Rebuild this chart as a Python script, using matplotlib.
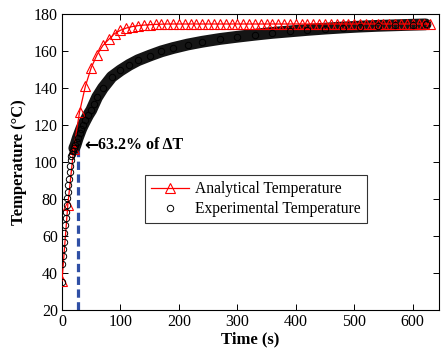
import matplotlib
matplotlib.use("Agg")
import matplotlib.pyplot as plt
import numpy as np

# analytical model, sampled every 10 s
ana_time = np.arange(0, 640, 10)
ana_temp = [35.8, 77.0, 107.0, 127.0, 141.0, 151.0, 158.0, 163.0, 166.3, 169.4,
            171.2, 172.4, 173.2, 173.7, 174.0, 174.2, 174.4, 174.5, 174.6, 174.6,
            174.6, 174.6, 174.6, 174.6, 174.6, 174.6, 174.6, 174.6, 174.6, 174.6,
            174.6, 174.6, 174.6, 174.6, 174.6, 174.6, 174.6, 174.6, 174.6, 174.6,
            174.6, 174.6, 174.6, 174.6, 174.6, 174.6, 174.6, 174.6, 174.6, 174.6,
            174.6, 174.6, 174.6, 174.6, 174.6, 174.6, 174.6, 174.6, 174.6, 174.6,
            174.6, 174.6, 174.6, 174.6]

# experimental readings
exp_time = [0, 0.5, 1, 2, 3, 4, 5, 6, 7, 8, 9, 10, 11, 12, 13, 14, 15, 16, 17,
            19, 21, 23, 25, 27, 30, 33, 36, 40, 45, 50, 55, 60, 70, 85, 100,
            115, 130, 150, 170, 190, 215, 240, 270, 300, 330, 360, 390, 420,
            450, 480, 510, 540, 570, 600, 622]
exp_temp = [35.0, 45.0, 49.0, 53.0, 57.0, 61.5, 66.0, 70.0, 73.0, 77.0, 80.5,
            84.0, 87.5, 91.0, 94.5, 98.0, 101.0, 103.0, 104.5, 106.0, 107.5,
            109.0, 111.0, 113.0, 115.5, 118.0, 120.0, 122.5, 125.5, 128.0,
            131.5, 135.0, 140.0, 146.0, 149.5, 152.5, 155.0, 157.5, 159.8,
            161.6, 163.5, 165.0, 166.5, 167.7, 168.8, 169.8, 170.6, 171.4,
            172.1, 172.7, 173.2, 173.6, 173.9, 174.2, 174.4]

tau_time = 26.8
tau_temp = 111.0

plt.rcParams["font.family"] = ["Liberation Serif", "DejaVu Serif"]

fig = plt.figure(figsize=(4.41, 3.48), dpi=100)
ax = fig.add_axes([62 / 441, 38 / 348, 377 / 441, 296 / 348])

ax.plot([tau_time, tau_time], [20, tau_temp], color="#2f4fa5", lw=2.3,
        linestyle=(0, (2.6, 1.4)), zorder=2)

# dense experimental band
band = [i for i, t in enumerate(exp_time) if t >= 21]
ax.plot([exp_time[i] for i in band], [exp_temp[i] for i in band],
        color="#151515", lw=8.5, solid_capstyle="round", zorder=3)
ax.plot(ana_time, ana_temp, color="red", lw=0.9, marker="^", markersize=6.5,
        markerfacecolor="none", markeredgewidth=0.8, zorder=4,
        label="Analytical Temperature")
ax.plot(exp_time, exp_temp, linestyle="none", marker="o", markersize=4.6,
        markerfacecolor="none", markeredgecolor="black", markeredgewidth=0.7,
        zorder=5, label="Experimental Temperature")

ax.annotate("\u2190", xy=(38, 109), fontsize=12, fontweight="bold",
            va="center", ha="left", family=["DejaVu Sans"])
ax.annotate("63.2% of \u0394T", xy=(62, 109), fontsize=11.5,
            fontweight="bold", va="center", ha="left")

ax.set_xlim(0, 645)
ax.set_ylim(20, 180)
ax.set_xticks([0, 100, 200, 300, 400, 500, 600])
ax.set_yticks(range(20, 181, 20))
ax.tick_params(direction="in", length=4, width=0.7, top=True, right=True,
               labelsize=11.5, pad=3)
for s in ax.spines.values():
    s.set_linewidth(0.8)

ax.set_xlabel("Time (s)", fontsize=12, fontweight="bold", labelpad=1)
ax.set_ylabel("Temperature (\u00b0C)", fontsize=12, fontweight="bold", labelpad=5)

leg = ax.legend(loc="upper left", bbox_to_anchor=(83 / 377, 1 - 161 / 296),
                fontsize=11.2, frameon=True, fancybox=False, borderpad=0.4,
                labelspacing=0.25, handlelength=2.4, handletextpad=0.4,
                borderaxespad=0)
leg.get_frame().set_edgecolor("black")
leg.get_frame().set_linewidth(0.8)

fig.savefig("out.png", dpi=100)
